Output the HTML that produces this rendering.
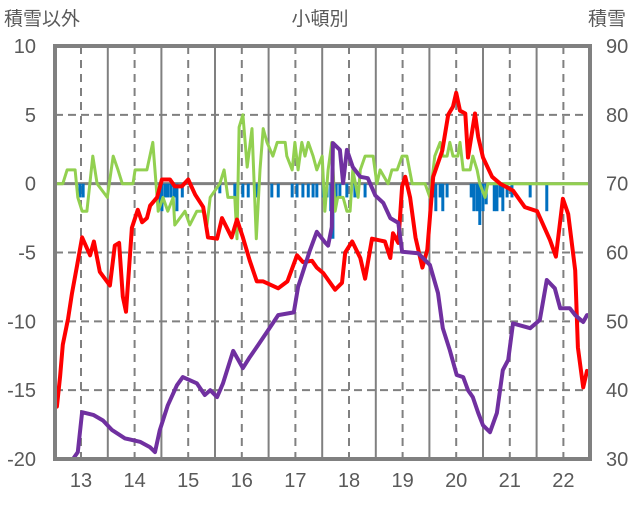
<!DOCTYPE html>
<html><head><meta charset="utf-8"><style>
body{margin:0;background:#fff;}
svg text{font-family:"Liberation Sans","Noto Sans CJK JP",sans-serif;fill:#595959;}
</style></head><body>
<svg id="chart" width="636" height="501" xmlns="http://www.w3.org/2000/svg">
<text x="4" y="25" font-size="19">積雪以外</text>
<text x="320" y="25" font-size="19" text-anchor="middle">小頓別</text>
<text x="588" y="25" font-size="19">積雪</text>
<g id="grid"></g>
<g id="bars"></g>
<g id="lines"></g>
<rect x="55" y="46" width="535" height="413" fill="none" stroke="#808080" stroke-width="4"/>
<g id="ticks"></g>
</svg>
<script>
const leftTicks=[10,5,0,-5,-10,-15,-20];
const rightTicks=[90,80,70,60,50,40,30];
const yearTicks=[13,14,15,16,17,18,19,20,21,22];
const redT=[12.52,12.55,12.61,12.66,12.76,12.83,12.93,13.02,13.17,13.24,13.35,13.54,13.63,13.71,13.78,13.84,13.95,14.06,14.14,14.23,14.29,14.42,14.51,14.66,14.75,14.88,15.0,15.13,15.28,15.37,15.54,15.63,15.72,15.81,15.91,16.02,16.15,16.28,16.4,16.68,16.85,17.03,17.14,17.31,17.4,17.52,17.74,17.87,17.93,18.06,18.21,18.3,18.43,18.67,18.77,18.82,18.92,18.99,19.05,19.14,19.24,19.37,19.46,19.57,19.74,19.85,19.94,20.0,20.07,20.17,20.22,20.35,20.41,20.5,20.67,20.82,21.06,21.28,21.51,21.75,21.86,21.99,22.09,22.22,22.27,22.37,22.44,22.5];
const redV=[-15.7,-16.2,-14,-11.7,-9.8,-8,-5.9,-3.9,-5.2,-4.2,-6.4,-7.4,-4.5,-4.3,-8.2,-9.3,-3.2,-1.9,-2.8,-2.5,-1.6,-1,0.3,0.3,-0.2,-0.2,0.3,-0.8,-1.7,-3.9,-4,-2.5,-3.2,-3.9,-2.6,-3.9,-5.6,-7.1,-7.1,-7.6,-7.1,-5.2,-5.7,-5.6,-6.1,-6.5,-7.7,-7.2,-5,-4.2,-5.4,-6.9,-4,-4.2,-5.4,-3.6,-4.3,-0.2,0.5,-1,-3.9,-6.1,-4.8,0.5,2.4,5,5.6,6.6,5.3,5.1,1.9,5.1,3.4,1.9,0.5,0,-0.5,-1.7,-2,-4.1,-5.3,-1.1,-2.2,-6.3,-11.9,-14.8,-13.6,-13.9];
const purT=[12.52,12.85,12.94,13.02,13.23,13.41,13.58,13.82,14.1,14.29,14.38,14.47,14.62,14.79,14.9,15.16,15.31,15.41,15.54,15.65,15.84,16.02,16.15,16.3,16.49,16.68,16.97,17.05,17.27,17.4,17.55,17.61,17.68,17.7,17.83,17.89,17.96,18.07,18.21,18.35,18.49,18.64,18.77,18.92,18.99,19.29,19.51,19.66,19.75,19.88,20.01,20.13,20.22,20.31,20.41,20.5,20.63,20.76,20.87,20.97,21.06,21.38,21.56,21.69,21.84,21.94,22.12,22.22,22.37,22.44,22.5];
const purV=[30,30,31,36.8,36.4,35.6,34.2,33,32.5,31.7,31,34.2,37.8,40.7,41.9,41,39.3,40,39,41,45.7,43.2,44.8,46.5,48.7,50.9,51.3,55,60.3,63,61.5,61,63.7,75.9,74.9,70.1,74.9,72.4,71,70.8,68.3,67.2,65,64.3,60.1,59.9,58.2,54.1,49,45.8,42.2,41.9,40,39,36.7,34.9,33.9,36.7,42.9,44.4,49.7,49,50.2,56,54.8,51.9,51.9,50.9,49.9,50.9,50.9];
const grnT=[12.52,12.66,12.74,12.89,12.94,13.02,13.11,13.22,13.3,13.49,13.6,13.69,13.77,13.97,14.01,14.23,14.34,14.44,14.53,14.62,14.72,14.75,14.94,15.03,15.16,15.28,15.35,15.41,15.59,15.67,15.74,15.87,15.91,15.95,16.02,16.1,16.19,16.27,16.34,16.4,16.47,16.58,16.66,16.81,16.84,16.94,16.99,17.05,17.12,17.18,17.24,17.33,17.4,17.5,17.55,17.61,17.68,17.74,17.79,17.89,17.96,18.02,18.07,18.17,18.21,18.3,18.45,18.52,18.58,18.73,18.8,18.9,18.99,19.08,19.18,19.42,19.51,19.6,19.7,19.75,19.83,19.88,19.94,20.03,20.07,20.13,20.26,20.31,20.39,20.44,20.54,20.59,22.5];
const grnV=[0,0,1,1,-1,-2,-2,2,0,-1,2,1,0,0,1,1,3,-2,-1,-2,-1,-3,-2,-3,-2,-2,-3,-1,0,1,-1,-1,-4,4.1,5,1.2,4,-4,1,4,3,2,3,3,2,1,3,1,3,2,3,2,1,2,-2,1,3,-2,-1,-1,-2,-2,1,-1,1,2,2,0,1,0,1,1,2,2,0,0,-1,2,3,2,2,3,2,2,3,1,1,2,1,0,-1,0,0];
const barT=[12.98,13.04,14.47,14.51,14.57,14.62,14.68,14.74,14.79,14.89,15.59,15.87,16.02,16.12,16.28,16.56,16.68,16.94,17.03,17.14,17.24,17.33,17.4,17.52,17.59,17.66,17.7,17.76,17.83,17.96,18.11,18.3,19.57,19.62,19.7,19.75,19.83,20.28,20.33,20.39,20.44,20.5,20.56,20.71,20.76,20.82,20.87,20.95,21.04,21.38,21.69];
const barV=[-1,-1,-1.5,-2,-1,-1,-1,-1,-2,-1,-0.7,-1,-1,-1,-1,-1,-1,-1,-1,-1,-1,-1,-1,-1,-1,-2,-4,-1.5,-1,-1,-1,-1,-1,-2,-1,-2,-1,-1,-2,-2,-3,-2,-1.5,-2,-2,-1,-2,-1,-1,-1,-2];

const NS='http://www.w3.org/2000/svg';
const X0=55,X1=590,Y0=46,Y1=459;
function xs(t){return 81+(t-13)*53.6;}
function yl(v){return Y1-(v+20)/30*(Y1-Y0);}
function yr(v){return Y1-(v-30)/60*(Y1-Y0);}
function mk(tag,attrs,parent){const e=document.createElementNS(NS,tag);for(const k in attrs)e.setAttribute(k,attrs[k]);parent.appendChild(e);return e;}
const grid=document.getElementById('grid');
leftTicks.forEach(v=>{
  if(v===10||v===-20)return;
  const l=mk('line',{x1:X0,x2:X1,y1:yl(v),y2:yl(v),stroke:'#808080','stroke-width':v===0?3:2,'stroke-dasharray':v===0?'none':'8,5'},grid);
  
  
});
yearTicks.forEach(t=>{
  const d=mk('line',{x1:xs(t),x2:xs(t),y1:Y0,y2:Y1,stroke:'#808080','stroke-width':2,'stroke-dasharray':'8,6'},grid);
  
  
  const s=mk('line',{x1:xs(t+0.5),x2:xs(t+0.5),y1:Y0,y2:Y1,stroke:'#808080','stroke-width':2},grid);
  
  
});
const bars=document.getElementById('bars');
barT.forEach((t,i)=>{
  const r=mk('rect',{x:xs(t)-1.5,y:yl(0),width:3,height:yl(barV[i])-yl(0),fill:'#0070c0'},bars);
  
  
});
const lines=document.getElementById('lines');
function path(T,V,yf,color,w,name){
  const d=T.map((t,i)=>(i?'L':'M')+xs(t).toFixed(1)+','+yf(V[i]).toFixed(1)).join('');
  const p=mk('path',{d:d,fill:'none',stroke:color,'stroke-width':w,'stroke-linejoin':'round'},lines);
  
  
}
path(grnT,grnV,yl,'#92d050',3,'green-line');
path(redT,redV,yl,'#ff0000',4,'red-line');
path(purT,purV,yr,'#7030a0',4,'purple-snow-line');
const ticks=document.getElementById('ticks');
leftTicks.forEach(v=>{
  const e=mk('text',{x:36,y:yl(v)+7,'font-size':20,'text-anchor':'end'},ticks);
  e.textContent=v;
  
  
});
rightTicks.forEach(v=>{
  const e=mk('text',{x:606,y:yr(v)+7,'font-size':20},ticks);
  e.textContent=v;
  
  
});
yearTicks.forEach(t=>{
  const e=mk('text',{x:xs(t),y:487,'font-size':20,'text-anchor':'middle'},ticks);
  e.textContent=t;
  
  
});
</script>
</body></html>
